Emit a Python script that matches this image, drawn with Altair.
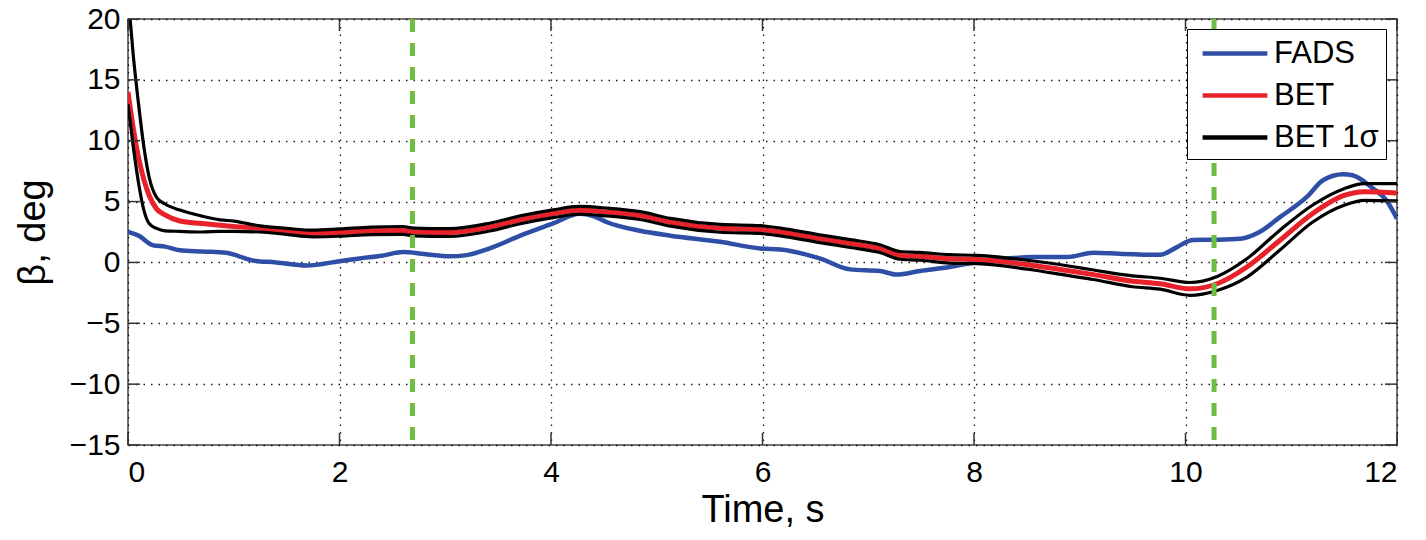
import altair as alt
import pandas as pd

# ---- data ----
fads_t = [0, 0.1, 0.24, 0.35, 0.49, 0.7, 0.93, 1.05, 1.18, 1.4, 1.69, 2.0, 2.19, 2.4, 2.6, 2.8,
          3.04, 3.2, 3.42, 3.71, 4.02, 4.27, 4.4, 4.53, 4.84, 5.13, 5.6, 5.98, 6.17, 6.54, 6.83,
          7.11, 7.27, 7.49, 7.77, 8.03, 8.3, 8.56, 8.88, 9.13, 9.4, 9.76, 9.92, 10.07, 10.3,
          10.52, 10.7, 10.89, 11.15, 11.3, 11.49, 11.58, 11.77, 11.9, 12.0]
fads_v = [2.5, 2.2, 1.4, 1.3, 1.0, 0.9, 0.8, 0.5, 0.16, 0.0, -0.25, 0.1, 0.33, 0.55, 0.85, 0.7,
          0.5, 0.6, 1.15, 2.2, 3.2, 4.0, 3.8, 3.3, 2.6, 2.2, 1.7, 1.15, 1.07, 0.33, -0.57,
          -0.7, -1.0, -0.7, -0.38, 0.03, 0.3, 0.44, 0.44, 0.8, 0.7, 0.63, 1.26, 1.85, 1.87,
          1.95, 2.5, 3.7, 5.4, 6.75, 7.24, 7.16, 6.1, 5.1, 3.6]

bet_t = [0, 0.05, 0.1, 0.15, 0.2, 0.27, 0.35, 0.49, 0.7, 0.87, 1.0, 1.25, 1.5, 1.75, 2.0, 2.3,
         2.6, 2.7, 3.04, 3.42, 3.71, 4.02, 4.27, 4.53, 4.84, 5.13, 5.6, 5.98, 6.17, 6.54, 6.83,
         7.11, 7.3, 7.49, 7.77, 8.03, 8.56, 8.88, 9.13, 9.5, 9.76, 10.04, 10.3, 10.58, 10.89,
         11.2, 11.5, 11.69, 12.0]
bet_v = [14.0, 11.0, 8.6, 6.8, 5.5, 4.4, 3.9, 3.4, 3.2, 3.05, 2.95, 2.8, 2.55, 2.4, 2.45, 2.6,
         2.63, 2.5, 2.45, 2.9, 3.5, 4.0, 4.28, 4.14, 3.85, 3.3, 2.8, 2.7, 2.5, 1.95, 1.55,
         1.13, 0.58, 0.5, 0.3, 0.25, -0.25, -0.66, -1.0, -1.55, -1.75, -2.17, -1.75, -0.38, 1.8,
         4.0, 5.5, 5.8, 5.7]
bet_hi = [22.0, 17.0, 13.0, 9.5, 7.0, 5.35, 4.8, 4.3, 3.8, 3.5, 3.4, 3.0, 2.8, 2.65, 2.75, 2.9,
          2.95, 2.82, 2.77, 3.22, 3.82, 4.32, 4.6, 4.46, 4.17, 3.62, 3.12, 3.02, 2.82, 2.27, 1.87,
          1.45, 0.9, 0.82, 0.64, 0.58, 0.12, -0.27, -0.62, -1.1, -1.3, -1.65, -1.15, 0.3, 2.63,
          4.7, 6.06, 6.47, 6.47]
bet_lo = [13.0, 9.5, 6.5, 4.3, 3.2, 2.8, 2.6, 2.55, 2.5, 2.55, 2.55, 2.5, 2.3, 2.1, 2.15, 2.28,
          2.31, 2.18, 2.13, 2.58, 3.18, 3.68, 3.96, 3.82, 3.53, 2.98, 2.48, 2.38, 2.18, 1.63, 1.23,
          0.81, 0.26, 0.18, -0.05, -0.1, -0.62, -1.07, -1.4, -2.0, -2.2, -2.7, -2.3, -1.2, 1.0,
          3.3, 4.7, 5.1, 5.05]

event_t = [2.69, 10.27]
x_ticks = [0, 2, 4, 6, 8, 10, 12]
y_ticks = [-15, -10, -5, 0, 5, 10, 15, 20]

series_names = ["FADS", "BET", "BET 1σ"]
series_colors = ["#2F4FA6", "#E8212B", "#000000"]

# ---- tables ----
rows = []
for t, v in zip(fads_t, fads_v):
    rows.append({"t": t, "v": v, "series": "FADS", "line": "FADS"})
for t, v in zip(bet_t, bet_v):
    rows.append({"t": t, "v": v, "series": "BET", "line": "BET"})
for t, v in zip(bet_t, bet_hi):
    rows.append({"t": t, "v": v, "series": "BET 1σ", "line": "hi"})
for t, v in zip(bet_t, bet_lo):
    rows.append({"t": t, "v": v, "series": "BET 1σ", "line": "lo"})
df = pd.DataFrame(rows)

W, H = 1269, 426
FONT = "Liberation Sans"

xs = alt.Scale(domain=[0, 12], nice=False, zero=False)
ys = alt.Scale(domain=[-15, 20], nice=False, zero=False)

x_axis = alt.Axis(values=x_ticks, format="d", title="Time, s", grid=True, ticks=False,
                  domain=False, labelPadding=12, titlePadding=4)
y_axis = alt.Axis(values=y_ticks, format="d", title="β, deg", grid=True, ticks=False,
                  domain=False, labelPadding=8, titlePadding=17)

base = alt.Chart(df)


def line_layer(name, width):
    return base.transform_filter(alt.datum.series == name).mark_line(
        strokeWidth=width, clip=True, interpolate="monotone"
    ).encode(
        x=alt.X("t:Q", scale=xs, axis=x_axis),
        y=alt.Y("v:Q", scale=ys, axis=y_axis),
        color=alt.Color("series:N",
                        scale=alt.Scale(domain=series_names, range=series_colors),
                        legend=alt.Legend(title=None, orient="none", legendX=1059, legendY=10,
                                          symbolType="M-0.55,0L3.45,0", symbolSize=1050,
                                          symbolStrokeWidth=4.5, labelFontSize=31,
                                          labelFont=FONT, labelColor="black",
                                          fillColor="white", strokeColor="black",
                                          padding=6, rowPadding=8, labelOffset=44,
                                          labelLimit=300)),
        detail="line:N",
    )


fads = line_layer("FADS", 4.5)
bet = line_layer("BET", 5)
sig = line_layer("BET 1σ", 3.2)

events = alt.Chart(pd.DataFrame({"t": event_t})).mark_rule(
    color="#6DBE45", strokeWidth=5, strokeDash=[13, 11]
).encode(x=alt.X("t:Q", scale=xs), y=alt.value(0), y2=alt.value(H))

xt = pd.DataFrame({"t": x_ticks})
yt = pd.DataFrame({"v": y_ticks})
tick_style = dict(color="#333333", strokeWidth=1.5)
tb = alt.Chart(xt).mark_rule(**tick_style).encode(x=alt.X("t:Q", scale=xs), y=alt.value(H), y2=alt.value(H - 12))
tt = alt.Chart(xt).mark_rule(**tick_style).encode(x=alt.X("t:Q", scale=xs), y=alt.value(0), y2=alt.value(12))
tl = alt.Chart(yt).mark_rule(**tick_style).encode(y=alt.Y("v:Q", scale=ys), x=alt.value(0), x2=alt.value(12))
tr = alt.Chart(yt).mark_rule(**tick_style).encode(y=alt.Y("v:Q", scale=ys), x=alt.value(W), x2=alt.value(W - 12))

chart = alt.layer(fads, bet, sig, events, tb, tt, tl, tr).properties(
    width=W, height=H,
    background="white",
    autosize=alt.AutoSizeParams(type="none"),
    padding={"left": 120, "top": 11, "right": 21, "bottom": 87},
).configure_view(
    stroke="#444444", strokeWidth=1.5, fill="white"
).configure_axis(
    gridColor="#000000", gridDash=[1.5, 6], gridWidth=1.3, gridOpacity=0.9,
    labelFont=FONT, labelFontSize=30, labelColor="black",
    titleFont=FONT, titleFontSize=38, titleColor="black", titleFontWeight="normal",
)

chart.save("out.html", embed_options={"renderer": "svg", "actions": False})
